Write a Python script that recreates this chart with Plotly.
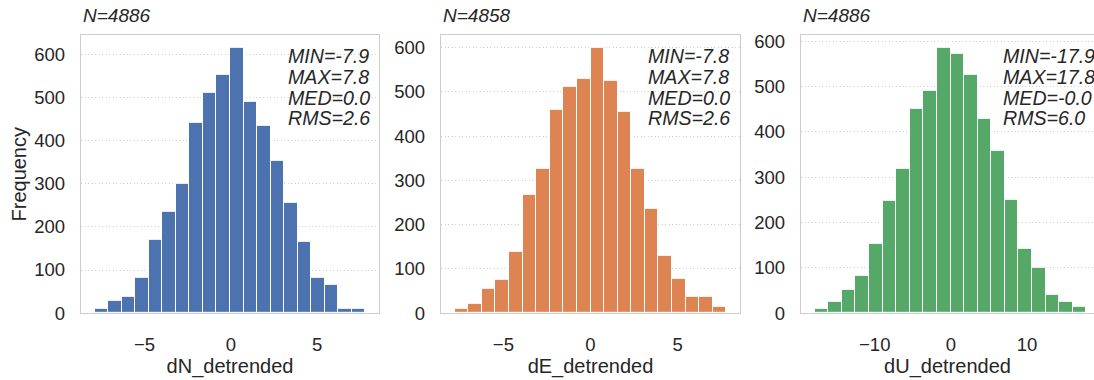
import numpy as np
import plotly.graph_objects as go

# ---- data ----
components = ["dN_detrended", "dE_detrended", "dU_detrended"]
n_obs = [4886, 4858, 4886]
mins = [-7.9, -7.8, -17.9]
maxs = [7.8, 7.8, 17.8]
meds = ["0.0", "0.0", "-0.0"]
rmss = [2.6, 2.6, 6.0]

counts_dN = [11, 28, 38, 82, 171, 234, 300, 441, 510, 551, 614, 490, 433, 354, 256, 166, 83, 66, 10, 11]
counts_dE = [9, 22, 56, 76, 138, 268, 326, 460, 512, 529, 599, 525, 454, 327, 236, 130, 77, 38, 36, 15]
counts_dU = [9, 24, 51, 82, 152, 248, 318, 450, 491, 585, 573, 525, 428, 359, 250, 142, 100, 40, 24, 13]
all_counts = [counts_dN, counts_dE, counts_dU]

colors = ["#4C72B0", "#DD8452", "#55A868"]
x_ticks = [[-5, 0, 5], [-5, 0, 5], [-10, 0, 10]]
y_ticks = [0, 100, 200, 300, 400, 500, 600]

W, H = 1094, 380
boxes = [(81, 379), (441, 740), (801, 1100)]   # last panel extends past the page edge
stat_left_px = [286, 645.7, 1000.5]
top_px, bot_px = 32, 321
ydom = [(H - bot_px) / H, (H - top_px) / H]

FONT = "Arial, Liberation Sans, DejaVu Sans, sans-serif"
TXT = "#262626"

fig = go.Figure()
annotations = []

for i in range(3):
    counts = all_counts[i]
    nb = len(counts)
    edges = np.linspace(mins[i], maxs[i], nb + 1)
    centers = (edges[:-1] + edges[1:]) / 2
    bw = edges[1] - edges[0]
    ax = "" if i == 0 else str(i + 1)
    fig.add_trace(go.Bar(
        x=centers, y=counts, width=bw,
        marker=dict(color=colors[i], line=dict(color="white", width=1)),
        xaxis="x" + ax, yaxis="y" + ax, showlegend=False,
    ))
    span = maxs[i] - mins[i]
    x0, x1 = mins[i] - 0.05 * span, maxs[i] + 0.05 * span
    l, r = boxes[i]
    clipped = r > W
    r_vis = min(r, W)
    x1_vis = x0 + (x1 - x0) * (r_vis - l) / (r - l)
    yr = [0, max(counts) * 1.05]
    common = dict(showline=True, linecolor="#cccccc", linewidth=1.3,
                  zeroline=False, tickfont=dict(family=FONT, size=18.5, color=TXT),
                  ticks="outside", tickcolor="rgba(0,0,0,0)")
    fig.update_layout(**{
        "xaxis" + ax: dict(domain=[l / W, r_vis / W], range=[x0, x1_vis], anchor="y" + ax,
                           tickvals=x_ticks[i], mirror=True,
                           ticktext=[("\u2212" + str(-t)) if t < 0 else str(t) for t in x_ticks[i]],
                           showgrid=False, ticklen=14,
                           title=dict(text=components[i], font=dict(family=FONT, size=20, color=TXT), standoff=5),
                           **common),
        "yaxis" + ax: dict(domain=ydom, range=yr, anchor="x" + ax, mirror=not clipped,
                           tickvals=y_ticks, showgrid=True, gridcolor="#cfcfcf",
                           griddash="1.3px,2.2px", gridwidth=1.2,
                           ticklen=11,
                           **common),
    })
    annotations.append(dict(text=f"N={n_obs[i]}", xref="paper", yref="paper", x=l / W,
                            y=(H - 12) / H,
                            xanchor="left", yanchor="middle", showarrow=False,
                            font=dict(family=FONT, size=19, color=TXT, style="italic")))
    lines = [f"MIN={mins[i]}", f"MAX={maxs[i]}", f"MED={meds[i]}", f"RMS={rmss[i]}"]
    for k, t in enumerate(lines):
        ypx = 54.5 + 21.3 * k
        annotations.append(dict(text=t, xref="paper", yref="paper", x=stat_left_px[i] / W,
                                y=(H - ypx) / H,
                                xanchor="left", yanchor="middle", showarrow=False,
                                font=dict(family=FONT, size=19.6, color=TXT, style="italic")))

# y-axis label on first panel only
annotations.append(dict(text="Frequency", xref="paper", yref="paper", x=18.5 / W,
                        y=(H - (top_px + bot_px) / 2) / H, xanchor="center", yanchor="middle",
                        textangle=-90, showarrow=False, font=dict(family=FONT, size=20, color=TXT)))

fig.update_layout(width=W, height=H, margin=dict(l=0, r=0, t=0, b=0),
                  paper_bgcolor="white", plot_bgcolor="white", bargap=0,
                  annotations=annotations)
fig.write_html("out.html")
